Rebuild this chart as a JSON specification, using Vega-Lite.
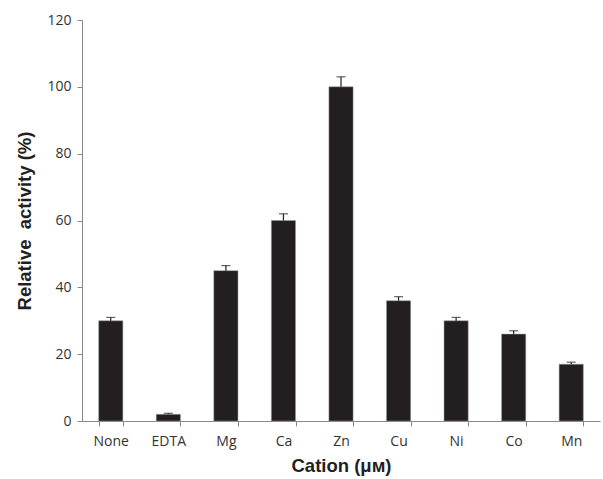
{
  "$schema": "https://vega.github.io/schema/vega-lite/v6.json",
  "autosize": "none",
  "padding": {"left": 82, "top": 20, "right": 3, "bottom": 58},
  "width": 518,
  "height": 401,
  "background": "white",
  "config": {"view": {"stroke": null}},
  "data": {"values": [
    {"cation": "None", "activity": 30, "err": 1.0},
    {"cation": "EDTA", "activity": 2, "err": 0.3},
    {"cation": "Mg", "activity": 45, "err": 1.5},
    {"cation": "Ca", "activity": 60, "err": 2.0},
    {"cation": "Zn", "activity": 100, "err": 3.0},
    {"cation": "Cu", "activity": 36, "err": 1.2},
    {"cation": "Ni", "activity": 30, "err": 1.0},
    {"cation": "Co", "activity": 26, "err": 1.0},
    {"cation": "Mn", "activity": 17, "err": 0.6}
  ]},
  "transform": [{"calculate": "datum.activity + datum.err", "as": "upper"}],
  "encoding": {
    "x": {
      "field": "cation", "type": "nominal", "sort": null,
      "scale": {"paddingInner": 0.58, "paddingOuter": 0.29},
      "axis": {
        "title": "Cation (μм)", "labelAngle": 0, "tickBand": "extent",
        "labelFont": "Open Sans", "labelFontSize": 14, "labelColor": "#333333", "labelPadding": 8,
        "titleFont": "Liberation Sans", "titleFontSize": 18.5, "titleFontWeight": "bold", "titleColor": "#231f20", "titlePadding": 8,
        "domainColor": "#888888", "tickColor": "#888888", "tickSize": 5
      }
    }
  },
  "layer": [
    {
      "mark": {"type": "bar", "color": "#231f20", "stroke": "#9a9a9a", "strokeWidth": 0.5},
      "encoding": {
        "y": {
          "field": "activity", "type": "quantitative",
          "scale": {"domain": [0, 120], "nice": false},
          "axis": {
            "title": "Relative\u00a0 activity (%)", "values": [0, 20, 40, 60, 80, 100, 120], "grid": false,
            "labelFont": "Open Sans", "labelFontSize": 14, "labelColor": "#333333", "labelPadding": 6,
            "titleFont": "Liberation Sans", "titleFontSize": 18.5, "titleFontWeight": "bold", "titleColor": "#231f20", "titlePadding": 12,
            "domainColor": "#888888", "tickColor": "#888888", "tickSize": 5
          }
        }
      }
    },
    {
      "mark": {"type": "rule", "color": "#231f20", "strokeWidth": 1.2},
      "encoding": {
        "y": {"field": "activity", "type": "quantitative"},
        "y2": {"field": "upper"}
      }
    },
    {
      "mark": {"type": "tick", "color": "#231f20", "thickness": 1.2, "size": 9, "orient": "horizontal"},
      "encoding": {
        "y": {"field": "upper", "type": "quantitative"}
      }
    }
  ]
}
